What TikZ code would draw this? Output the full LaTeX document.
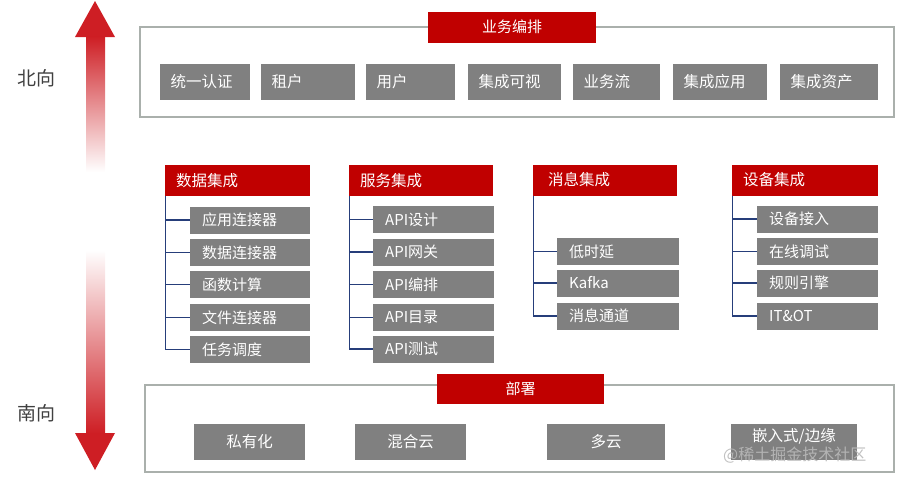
\documentclass[tikz,border=0pt]{standalone}
\usepackage{fontspec}
\setmainfont{Noto Sans CJK SC}
\definecolor{hdrred}{RGB}{192,0,0}
\definecolor{boxgray}{RGB}{128,128,128}
\definecolor{framegray}{RGB}{170,176,172}
\definecolor{treeblue}{RGB}{38,62,122}
\definecolor{arrowred}{RGB}{206,30,36}
\definecolor{labelgray}{RGB}{64,64,64}
\definecolor{wmgray}{RGB}{185,185,185}
\begin{document}
\begin{tikzpicture}[x=1pt,y=-1pt,
  outerframe/.style={draw=framegray, line width=2.5pt},
  ttl/.style={fill=hdrred, text=white, font=\fontsize{15}{18}\selectfont, inner sep=0pt, minimum height=31pt},
  hdr/.style={fill=hdrred, text=white, font=\fontsize{15.5}{18}\selectfont, anchor=west, inner xsep=11pt, inner ysep=0pt, minimum height=31pt, align=left, text width=#1},
  gitem/.style={fill=boxgray, text=white, font=\fontsize{15}{18}\selectfont, anchor=west, inner xsep=12pt, inner ysep=0pt, minimum height=27pt, align=left, text width=#1},
  titem/.style={fill=boxgray, text=white, font=\fontsize{15.5}{18}\selectfont, anchor=west, inner xsep=10.5pt, inner ysep=0pt, minimum height=36pt, align=left, text width=#1},
  bitem/.style={fill=boxgray, text=white, font=\fontsize{15.5}{18}\selectfont, inner sep=0pt, minimum height=36pt, minimum width=#1},
  tree/.style={draw=treeblue, line width=1.4pt},
  side/.style={text=labelgray, font=\fontsize{19}{22}\selectfont}
]
\useasboundingbox (0,0) rectangle (900,477);

% ---- gradient double arrow ----
\fill[arrowred] (95,1) -- (115,37) -- (75,37) -- cycle;
\shade[top color=arrowred, bottom color=white] (86,36.5) rectangle (105,172);
\shade[top color=white, bottom color=arrowred] (86,250) rectangle (105,433.5);
\fill[arrowred] (75,433) -- (115,433) -- (95,470) -- cycle;
\node[side] (north) at (36,78) {北向};
\node[side] (south) at (36,413) {南向};

% ---- top frame ----
\draw[outerframe] (140,27) rectangle (894,117);
\node[ttl, minimum width=168pt] (biz) at (512,27) {业务编排};
\node[titem=69pt] (t1) at (160,82) {统一认证};
\node[titem=73pt] (t2) at (261,82) {租户};
\node[titem=68pt] (t3) at (366,82) {用户};
\node[titem=72pt] (t4) at (468,82) {集成可视};
\node[titem=66pt] (t5) at (573,82) {业务流};
\node[titem=73pt] (t6) at (673,82) {集成应用};
\node[titem=77pt] (t7) at (780,82) {集成资产};

% ---- data integration ----
\node[hdr=123pt] (h1) at (165,180.5) {数据集成};
\node[gitem=96pt] (a1) at (190,220) {应用连接器};
\node[gitem=96pt] (a2) at (190,252.5) {数据连接器};
\node[gitem=96pt] (a3) at (190,284.5) {函数计算};
\node[gitem=96pt] (a4) at (190,317.5) {文件连接器};
\node[gitem=96pt] (a5) at (190,349.5) {任务调度};
\foreach \n in {a1,a2,a3,a4,a5} \draw[tree] ([xshift=0.7pt]h1.south west) |- (\n.west);

% ---- service integration ----
\node[hdr=122pt] (h2) at (349,180.5) {服务集成};
\node[gitem=97pt] (b1) at (373,219.5) {API设计};
\node[gitem=97pt] (b2) at (373,252) {API网关};
\node[gitem=97pt] (b3) at (373,284.5) {API编排};
\node[gitem=97pt] (b4) at (373,317.5) {API目录};
\node[gitem=97pt] (b5) at (373,349) {API测试};
\foreach \n in {b1,b2,b3,b4,b5} \draw[tree] ([xshift=0.7pt]h2.south west) |- (\n.west);

% ---- message integration ----
\node[hdr=122pt, inner xsep=11pt] (h3) at (533,180) {\hspace*{4pt}消息集成};
\node[gitem=98pt] (c1) at (557,251.5) {低时延};
\node[gitem=98pt] (c2) at (557,283) {Kafka};
\node[gitem=98pt] (c3) at (557,316) {消息通道};
\foreach \n in {c1,c2,c3} \draw[tree] ([xshift=0.7pt]h3.south west) |- (\n.west);

% ---- device integration ----
\node[hdr=124pt] (h4) at (732,180) {设备集成};
\node[gitem=97pt] (d1) at (757,219) {设备接入};
\node[gitem=97pt] (d2) at (757,251.5) {在线调试};
\node[gitem=97pt] (d3) at (757,283) {规则引擎};
\node[gitem=97pt] (d4) at (757,316) {IT\&OT};
\foreach \n in {d1,d2,d3,d4} \draw[tree] ([xshift=0.7pt]h4.south west) |- (\n.west);

% ---- bottom frame ----
\draw[outerframe] (145,385) rectangle (894,472);
\node[ttl, minimum width=167pt, minimum height=30pt] (dep) at (520.5,389) {部署};
\node[bitem=111pt] (e1) at (249.5,442) {私有化};
\node[bitem=111pt] (e2) at (410.5,442) {混合云};
\node[bitem=118pt] (e3) at (606,442) {多云};
\node[bitem=126pt, text depth=9pt, text height=7pt] (e4) at (794,442) {嵌入式/边缘};

% ---- watermark ----
\node[text=wmgray, opacity=0.9, font=\fontsize{16}{18}\selectfont, anchor=west, inner sep=0pt] (wm) at (723,455) {@稀土掘金技术社区};
\end{tikzpicture}
\end{document}
